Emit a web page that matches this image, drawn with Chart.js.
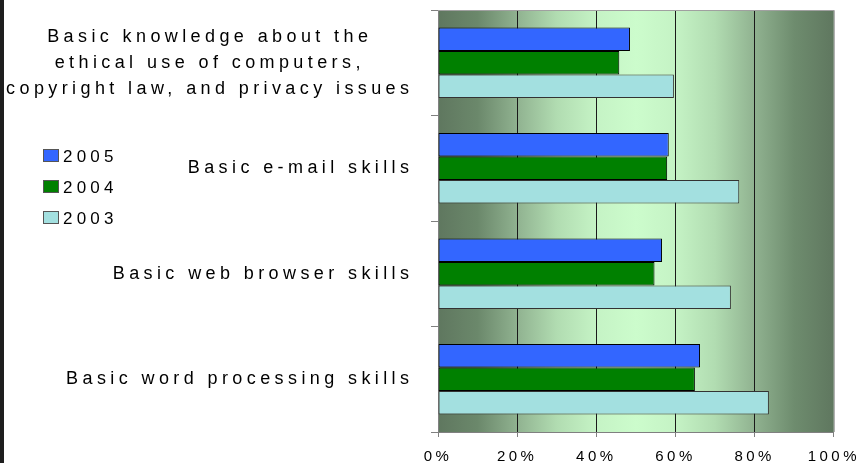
<!DOCTYPE html>
<html>
<head>
<meta charset="utf-8">
<script src="https://cdn.jsdelivr.net/npm/chart.js@4"></script>
<style>
  html, body { margin: 0; padding: 0; background: #fff; }
  #wrap {
    width: 864px;
    height: 463px;
    box-sizing: border-box;
    border-left: 4px solid #1e1e1e;
    position: relative;
  }
  #skills-chart { display: block; }
</style>
</head>
<body>
<div id="wrap"><canvas id="skills-chart" width="860" height="463"></canvas></div>
<script>
// Skill categories (multi-line labels are arrays of lines)
const categories = [
  ["Basic knowledge about the", "ethical use of computers,", "copyright law, and privacy issues"],
  "Basic e-mail skills",
  "Basic web browser skills",
  "Basic word processing skills",
];
const years = ["2005", "2004", "2003"];
const values2005 = [48.5, 58.3, 56.6, 66.2];
const values2004 = [45.8, 57.9, 54.7, 64.9];
const values2003 = [59.6, 76.1, 74.0, 83.6];
const xTicks = [0, 20, 40, 60, 80, 100];

const seriesColors = ["#3366ff", "#008000", "#a3e0e0"];
const FONT = "'Liberation Sans', Arial, sans-serif";

// green "cylinder" backdrop behind the bars
const backdropPlugin = {
  id: "backdrop",
  beforeDraw(chart) {
    const { ctx, chartArea: a } = chart;
    const g = ctx.createLinearGradient(a.left, 0, a.right, 0);
    g.addColorStop(0, "#5f775f");
    g.addColorStop(0.1, "#6b886b");
    g.addColorStop(0.2, "#90b290");
    g.addColorStop(0.3, "#b1dcb1");
    g.addColorStop(0.4, "#c5f3c5");
    g.addColorStop(0.5, "#ccfccc");
    g.addColorStop(0.6, "#c5f3c5");
    g.addColorStop(0.7, "#b1dcb1");
    g.addColorStop(0.8, "#90b290");
    g.addColorStop(0.9, "#6e8c6e");
    g.addColorStop(1, "#5f775f");
    ctx.save();
    ctx.fillStyle = g;
    ctx.fillRect(a.left, a.top, a.right - a.left, a.bottom - a.top);
    ctx.restore();
    // wide letter spacing for the axis tick labels
    ctx.letterSpacing = "3.5px";
  },
  beforeDatasetsDraw(chart) {
    const { ctx, chartArea: a } = chart;
    ctx.save();
    ctx.strokeStyle = "#a0a0a0";
    ctx.lineWidth = 1;
    ctx.beginPath();
    ctx.moveTo(a.left, a.top + 0.5);
    ctx.lineTo(a.right + 0.5, a.top + 0.5);
    ctx.lineTo(a.right + 0.5, a.bottom);
    ctx.stroke();
    ctx.restore();
  },
  afterDraw(chart) {
    const { ctx } = chart;
    const yScale = chart.scales.y;
    const spacing = 4.4;
    ctx.save();
    ctx.font = "18px " + FONT;
    ctx.letterSpacing = spacing + "px";
    ctx.fillStyle = "#000";
    ctx.textBaseline = "middle";
    ctx.textAlign = "left";

    // category labels: block right-aligned, lines centred within it
    const rightEdge = 405;
    const lineHeight = 26;
    categories.forEach((label, i) => {
      const lines = Array.isArray(label) ? label : [label];
      const widths = lines.map((l) => ctx.measureText(l).width - spacing);
      const widest = Math.max(...widths);
      const cy = yScale.getPixelForValue(i);
      lines.forEach((line, j) => {
        const x = rightEdge - widest / 2 - widths[j] / 2;
        const y = cy + (j - (lines.length - 1) / 2) * lineHeight;
        ctx.fillText(line, x, y);
      });
    });

    // legend on the left
    ctx.font = "17px " + FONT;
    ctx.letterSpacing = "4.2px";
    chart.data.datasets.forEach((ds, i) => {
      const y = 156 + i * 31;
      ctx.fillStyle = ds.backgroundColor;
      ctx.fillRect(39.5, y - 6.5, 15, 12);
      ctx.strokeStyle = "#555";
      ctx.lineWidth = 1;
      ctx.strokeRect(39.5, y - 6.5, 15, 12);
      ctx.fillStyle = "#000";
      ctx.fillText(ds.label, 59, y + 1);
    });
    ctx.restore();
    ctx.letterSpacing = "0px";
  },
};

const datasets = [values2005, values2004, values2003].map((vals, i) => ({
  label: years[i],
  data: vals,
  backgroundColor: seriesColors[i],
  borderColor: i === 2 ? "#333" : "#000",
  borderWidth: 1,
  borderSkipped: false,
  categoryPercentage: 0.67,
  barPercentage: 1.0,
}));

new Chart(document.getElementById("skills-chart"), {
  type: "bar",
  data: { labels: categories, datasets: datasets },
  options: {
    indexAxis: "y",
    responsive: false,
    animation: false,
    events: [],
    layout: { padding: { top: 10, right: 24, bottom: 0, left: 0 } },
    plugins: {
      legend: { display: false },
      tooltip: { enabled: false },
    },
    scales: {
      x: {
        type: "linear",
        min: 0,
        max: 100,
        afterBuildTicks: (scale) => {
          scale.ticks = xTicks.map((v) => ({ value: v }));
        },
        afterFit: (scale) => {
          scale.height = 31;
        },
        ticks: {
          padding: 11,
          color: "#000",
          font: { family: FONT, size: 15 },
          callback: (v) => v + "%",
        },
        grid: {
          color: (c) => (c.tick && (c.tick.value === 0 || c.tick.value === 100) ? "rgba(0,0,0,0)" : "#1a1a1a"),
          tickColor: "#808080",
          tickLength: 5,
          lineWidth: 1,
        },
        border: { color: "#808080" },
      },
      y: {
        type: "category",
        afterFit: (scale) => {
          scale.width = 434;
        },
        ticks: { display: false },
        grid: {
          drawOnChartArea: false,
          drawTicks: true,
          tickLength: 7,
          color: "#808080",
        },
        border: { color: "#808080" },
      },
    },
  },
  plugins: [backdropPlugin],
});
</script>
</body>
</html>
